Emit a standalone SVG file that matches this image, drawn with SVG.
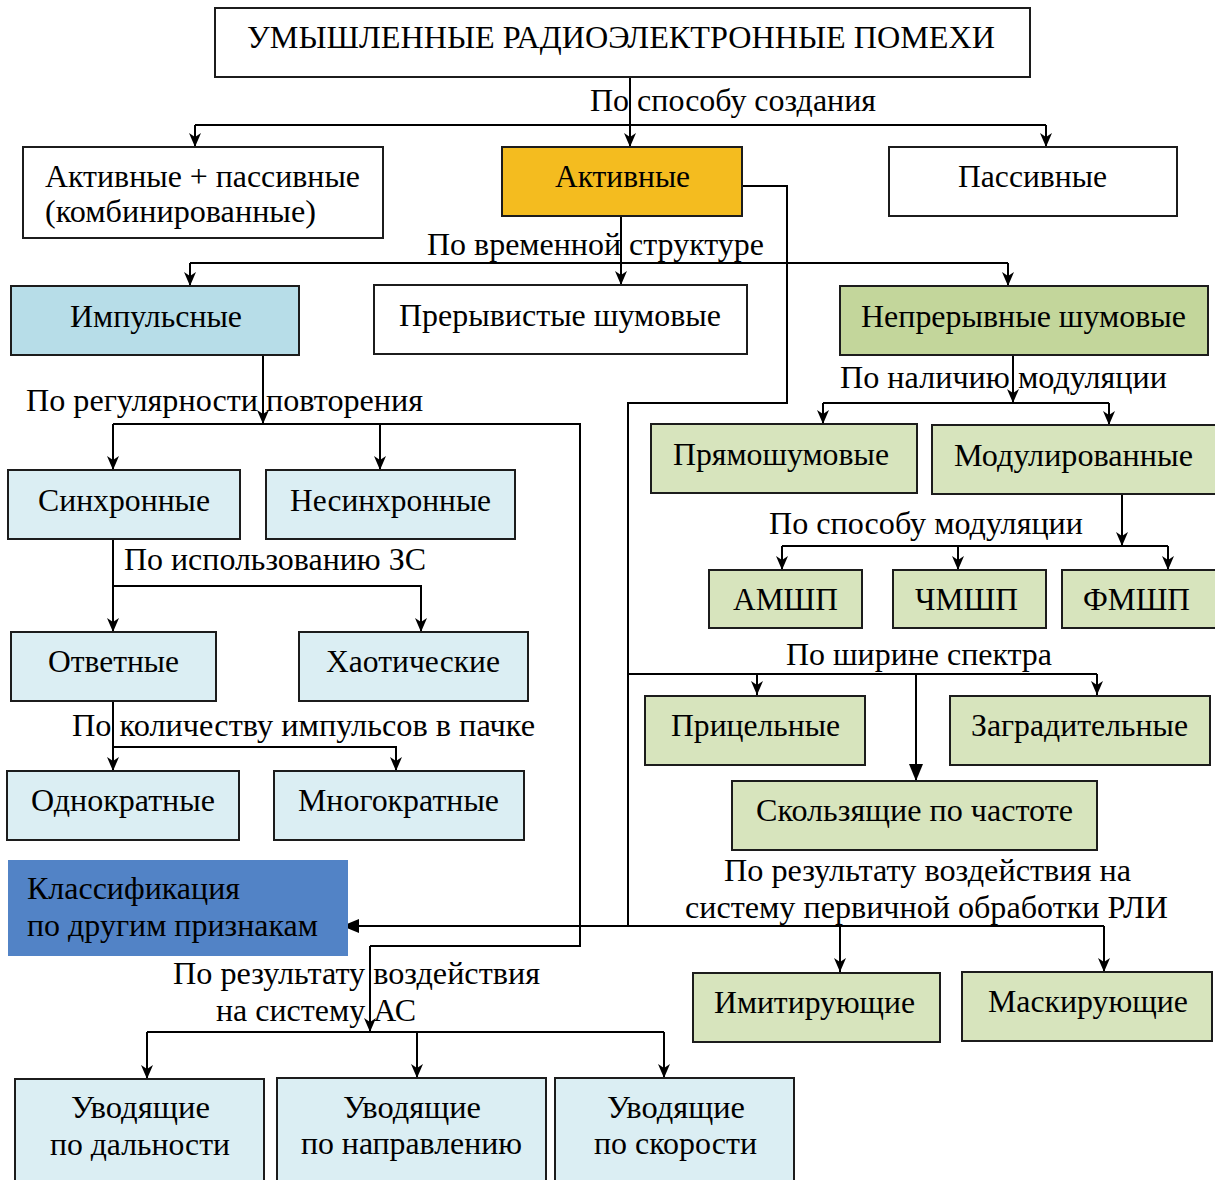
<svg xmlns="http://www.w3.org/2000/svg" width="1215" height="1180" viewBox="0 0 1215 1180">
  <style>
    .box { stroke: #1c1c1c; stroke-width: 2; }
    .w { fill: #ffffff; }
    .gold { fill: #F4BC1F; }
    .blue1 { fill: #B7DDE8; }
    .blue2 { fill: #DBEEF3; }
    .green1 { fill: #C3D69B; }
    .green2 { fill: #D7E4BD; }
    .dblue { fill: #5283C6; }
    text { font-family: "Liberation Serif", "Times New Roman", serif; font-size: 32px; fill: #000; }
    .ln { fill: none; stroke: #000; stroke-width: 2; }
    .ar { marker-end: url(#arr); }
    .big { marker-end: url(#bigarr); }
  </style>
  <defs>
    <marker id="arr" markerUnits="userSpaceOnUse" viewBox="0 0 14 12" refX="14" refY="6" markerWidth="14" markerHeight="12" orient="auto">
      <path d="M0,0 L14,6 L0,12 L4,6 z" fill="#000"/>
    </marker>
    <marker id="bigarr" markerUnits="userSpaceOnUse" viewBox="0 0 17 14" refX="17" refY="7" markerWidth="17" markerHeight="14" orient="auto">
      <path d="M0,0 L17,7 L0,14 z" fill="#000"/>
    </marker>
  </defs>

  <rect width="1215" height="1180" fill="#ffffff"/>

  <!-- connectors -->
  <g id="connectors">
    <!-- by way of creation -->
    <path class="ln ar" d="M630,77 V147"/>
    <path class="ln" d="M195,125 H1046"/>
    <path class="ln ar" d="M195,125 V147"/>
    <path class="ln ar" d="M1046,125 V147"/>
    <!-- by time structure -->
    <path class="ln ar" d="M621,216 V285"/>
    <path class="ln" d="M190,263 H1008"/>
    <path class="ln ar" d="M190,263 V286"/>
    <path class="ln ar" d="M1008,263 V286"/>
    <!-- active to spectrum / effect branch -->
    <path class="ln" d="M742,186 H787 V403 H628 V926"/>
    <!-- pulse regularity -->
    <path class="ln ar" d="M263,355 V424"/>
    <path class="ln" d="M113,424 H580 V946 H370"/>
    <path class="ln ar" d="M113,424 V470"/>
    <path class="ln ar" d="M380,424 V470"/>
    <!-- use of ZS -->
    <path class="ln ar" d="M113,539 V632"/>
    <path class="ln ar" d="M113,586 H421 V632"/>
    <!-- pulses in burst -->
    <path class="ln ar" d="M113,701 V771"/>
    <path class="ln ar" d="M113,747 H396 V771"/>
    <!-- modulation presence -->
    <path class="ln ar" d="M1013,355 V403"/>
    <path class="ln" d="M823,403 H1109"/>
    <path class="ln ar" d="M823,403 V424"/>
    <path class="ln ar" d="M1109,403 V425"/>
    <!-- modulation method -->
    <path class="ln ar" d="M1122,494 V546"/>
    <path class="ln" d="M782,546 H1168"/>
    <path class="ln ar" d="M782,546 V570"/>
    <path class="ln ar" d="M958,546 V570"/>
    <path class="ln ar" d="M1168,546 V570"/>
    <!-- spectrum width -->
    <path class="ln" d="M628,674 H1097"/>
    <path class="ln ar" d="M757,674 V695"/>
    <path class="ln ar" d="M1097,674 V695"/>
    <path class="ln big" d="M916,674 V781"/>
    <!-- effect on primary processing -->
    <path class="ln big" d="M1104,926 H342"/>
    <path class="ln ar" d="M840,926 V972"/>
    <path class="ln ar" d="M1104,926 V972"/>
    <!-- effect on AS -->
    <path class="ln ar" d="M370,946 V1032"/>
    <path class="ln" d="M147,1032 H664"/>
    <path class="ln ar" d="M147,1032 V1079"/>
    <path class="ln ar" d="M417,1032 V1078"/>
    <path class="ln ar" d="M664,1032 V1078"/>
  </g>

  <!-- branch labels -->
  <g id="labels">
    <text x="590" y="111" textLength="286" lengthAdjust="spacingAndGlyphs">По способу создания</text>
    <text x="427" y="255" textLength="337" lengthAdjust="spacingAndGlyphs">По временной структуре</text>
    <text x="26" y="411" textLength="397" lengthAdjust="spacingAndGlyphs">По регулярности повторения</text>
    <text x="840" y="388" textLength="327" lengthAdjust="spacingAndGlyphs">По наличию модуляции</text>
    <text x="769" y="534" textLength="314" lengthAdjust="spacingAndGlyphs">По способу модуляции</text>
    <text x="124" y="570" textLength="302" lengthAdjust="spacingAndGlyphs">По использованию ЗС</text>
    <text x="786" y="665" textLength="266" lengthAdjust="spacingAndGlyphs">По ширине спектра</text>
    <text x="72" y="736" textLength="463" lengthAdjust="spacingAndGlyphs">По количеству импульсов в пачке</text>
    <text x="724" y="881" textLength="407" lengthAdjust="spacingAndGlyphs">По результату воздействия на</text>
    <text x="685" y="918" textLength="483" lengthAdjust="spacingAndGlyphs">систему первичной обработки РЛИ</text>
    <text x="173" y="984" textLength="367" lengthAdjust="spacingAndGlyphs">По результату воздействия</text>
    <text x="216" y="1021" textLength="200" lengthAdjust="spacingAndGlyphs">на систему АС</text>
  </g>

  <!-- nodes -->
  <g id="n-root">
    <rect class="box w" x="215" y="8" width="815" height="69"/>
    <text x="247" y="48" textLength="748" lengthAdjust="spacingAndGlyphs">УМЫШЛЕННЫЕ РАДИОЭЛЕКТРОННЫЕ ПОМЕХИ</text>
  </g>
  <g id="n-combined">
    <rect class="box w" x="23" y="147" width="360" height="91"/>
    <text x="45" y="187" textLength="315" lengthAdjust="spacingAndGlyphs">Активные + пассивные</text>
    <text x="45" y="222" textLength="271" lengthAdjust="spacingAndGlyphs">(комбинированные)</text>
  </g>
  <g id="n-active">
    <rect class="box gold" x="502" y="147" width="240" height="69"/>
    <text x="555" y="187" textLength="135" lengthAdjust="spacingAndGlyphs">Активные</text>
  </g>
  <g id="n-passive">
    <rect class="box w" x="889" y="147" width="288" height="69"/>
    <text x="958" y="187" textLength="149" lengthAdjust="spacingAndGlyphs">Пассивные</text>
  </g>
  <g id="n-pulse">
    <rect class="box blue1" x="11" y="286" width="288" height="69"/>
    <text x="70" y="327" textLength="172" lengthAdjust="spacingAndGlyphs">Импульсные</text>
  </g>
  <g id="n-intermittent">
    <rect class="box w" x="374" y="285" width="373" height="69"/>
    <text x="399" y="326" textLength="322" lengthAdjust="spacingAndGlyphs">Прерывистые шумовые</text>
  </g>
  <g id="n-continuous">
    <rect class="box green1" x="840" y="286" width="368" height="69"/>
    <text x="861" y="327" textLength="325" lengthAdjust="spacingAndGlyphs">Непрерывные шумовые</text>
  </g>
  <g id="n-direct">
    <rect class="box green2" x="651" y="424" width="266" height="69"/>
    <text x="673" y="465" textLength="216" lengthAdjust="spacingAndGlyphs">Прямошумовые</text>
  </g>
  <g id="n-modulated">
    <rect class="box green2" x="932" y="425" width="284" height="69"/>
    <text x="954" y="466" textLength="239" lengthAdjust="spacingAndGlyphs">Модулированные</text>
  </g>
  <g id="n-sync">
    <rect class="box blue2" x="8" y="470" width="232" height="69"/>
    <text x="38" y="511" textLength="172" lengthAdjust="spacingAndGlyphs">Синхронные</text>
  </g>
  <g id="n-async">
    <rect class="box blue2" x="266" y="470" width="249" height="69"/>
    <text x="290" y="511" textLength="201" lengthAdjust="spacingAndGlyphs">Несинхронные</text>
  </g>
  <g id="n-amsh">
    <rect class="box green2" x="709" y="570" width="153" height="58"/>
    <text x="733" y="610" textLength="105" lengthAdjust="spacingAndGlyphs">АМШП</text>
  </g>
  <g id="n-chmsh">
    <rect class="box green2" x="893" y="570" width="153" height="58"/>
    <text x="915" y="610" textLength="103" lengthAdjust="spacingAndGlyphs">ЧМШП</text>
  </g>
  <g id="n-fmsh">
    <rect class="box green2" x="1062" y="570" width="154" height="58"/>
    <text x="1083" y="610" textLength="107" lengthAdjust="spacingAndGlyphs">ФМШП</text>
  </g>
  <g id="n-response">
    <rect class="box blue2" x="11" y="632" width="205" height="69"/>
    <text x="48" y="672" textLength="131" lengthAdjust="spacingAndGlyphs">Ответные</text>
  </g>
  <g id="n-chaotic">
    <rect class="box blue2" x="299" y="632" width="229" height="69"/>
    <text x="326" y="672" textLength="174" lengthAdjust="spacingAndGlyphs">Хаотические</text>
  </g>
  <g id="n-aimed">
    <rect class="box green2" x="645" y="696" width="220" height="69"/>
    <text x="671" y="736" textLength="169" lengthAdjust="spacingAndGlyphs">Прицельные</text>
  </g>
  <g id="n-barrage">
    <rect class="box green2" x="950" y="696" width="260" height="69"/>
    <text x="971" y="736" textLength="217" lengthAdjust="spacingAndGlyphs">Заградительные</text>
  </g>
  <g id="n-single">
    <rect class="box blue2" x="7" y="771" width="232" height="69"/>
    <text x="31" y="811" textLength="184" lengthAdjust="spacingAndGlyphs">Однократные</text>
  </g>
  <g id="n-multiple">
    <rect class="box blue2" x="274" y="771" width="250" height="69"/>
    <text x="298" y="811" textLength="201" lengthAdjust="spacingAndGlyphs">Многократные</text>
  </g>
  <g id="n-sweep">
    <rect class="box green2" x="732" y="781" width="365" height="69"/>
    <text x="756" y="821" textLength="317" lengthAdjust="spacingAndGlyphs">Скользящие по частоте</text>
  </g>
  <g id="n-other">
    <rect class="dblue" x="8" y="860" width="340" height="96"/>
    <text x="27" y="899" textLength="213" lengthAdjust="spacingAndGlyphs">Классификация</text>
    <text x="27" y="936" textLength="291" lengthAdjust="spacingAndGlyphs">по другим признакам</text>
  </g>
  <g id="n-imitating">
    <rect class="box green2" x="693" y="973" width="247" height="69"/>
    <text x="714" y="1013" textLength="201" lengthAdjust="spacingAndGlyphs">Имитирующие</text>
  </g>
  <g id="n-masking">
    <rect class="box green2" x="962" y="972" width="250" height="69"/>
    <text x="988" y="1012" textLength="200" lengthAdjust="spacingAndGlyphs">Маскирующие</text>
  </g>
  <g id="n-range">
    <rect class="box blue2" x="15" y="1079" width="249" height="110"/>
    <text x="71" y="1118" textLength="139" lengthAdjust="spacingAndGlyphs">Уводящие</text>
    <text x="50" y="1155" textLength="180" lengthAdjust="spacingAndGlyphs">по дальности</text>
  </g>
  <g id="n-direction">
    <rect class="box blue2" x="277" y="1078" width="269" height="110"/>
    <text x="343" y="1118" textLength="138" lengthAdjust="spacingAndGlyphs">Уводящие</text>
    <text x="301" y="1154" textLength="221" lengthAdjust="spacingAndGlyphs">по направлению</text>
  </g>
  <g id="n-velocity">
    <rect class="box blue2" x="555" y="1078" width="239" height="110"/>
    <text x="607" y="1118" textLength="138" lengthAdjust="spacingAndGlyphs">Уводящие</text>
    <text x="594" y="1154" textLength="163" lengthAdjust="spacingAndGlyphs">по скорости</text>
  </g>
</svg>
